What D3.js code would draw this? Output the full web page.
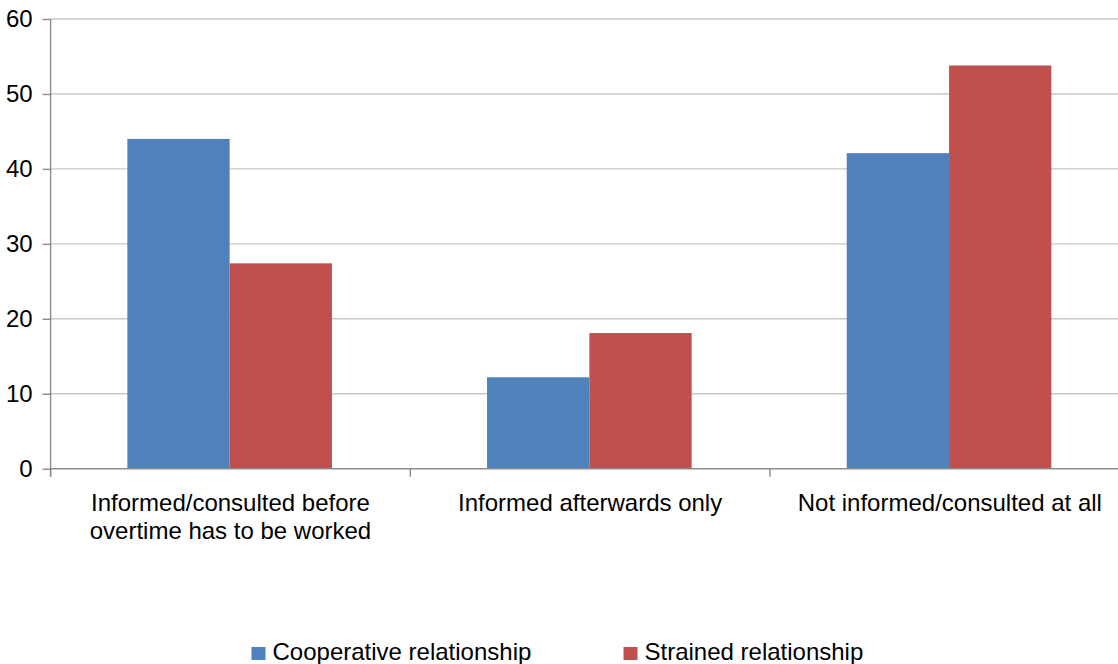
<!DOCTYPE html>
<html>
<head>
<meta charset="utf-8">
<script src="https://cdn.jsdelivr.net/npm/d3@7/dist/d3.min.js"></script>
<style>
  html, body { margin: 0; padding: 0; background: #fff; }
  svg { display: block; font-family: "Liberation Sans", Arial, sans-serif; }
</style>
</head>
<body>
<svg id="chart" width="1118" height="664"></svg>
<script>
// Categories (each label split into its display lines)
const categories = [
  ["Informed/consulted before", "overtime has to be worked"],
  ["Informed afterwards only"],
  ["Not informed/consulted at all"]
];
const seriesNames = ["Cooperative relationship", "Strained relationship"];
const cooperative = [44.0, 12.2, 42.1];
const strained = [27.4, 18.1, 53.8];
const yTicks = [0, 10, 20, 30, 40, 50, 60];
const colors = ["#4F81BD", "#C0504D"];

const FONT = 24;
const svg = d3.select("#chart");
const plotLeft = 50.6, plotTop = 19, plotBottom = 468.7, bandW = 359.7;
const plotRight = 1118;

const x0 = d3.scaleBand()
  .domain(d3.range(categories.length))
  .range([plotLeft, plotLeft + bandW * categories.length])
  .paddingInner(0).paddingOuter(0);

// Two bars per category, Excel-style gap on both sides
const x1 = d3.scaleBand()
  .domain(d3.range(seriesNames.length))
  .range([-0.8, x0.bandwidth() - 0.8])
  .paddingOuter(0.758).paddingInner(0);

const y = d3.scaleLinear().domain([0, 60]).range([plotBottom, plotTop]);

// Horizontal gridlines
svg.append("g")
  .selectAll("line")
  .data(yTicks.filter(d => d > 0))
  .join("line")
  .attr("x1", plotLeft).attr("x2", plotRight)
  .attr("y1", d => y(d))
  .attr("y2", d => y(d))
  .attr("stroke", "#c8c8c8").attr("stroke-width", 1.4);

// Bars
const values = [cooperative, strained];
const groups = svg.append("g")
  .selectAll("g")
  .data(categories.map((c, i) => i))
  .join("g")
  .attr("transform", i => `translate(${x0(i)},0)`);

groups.selectAll("rect")
  .data(i => values.map((s, k) => ({ k, v: s[i] })))
  .join("rect")
  .attr("x", d => x1(d.k))
  .attr("width", x1.bandwidth())
  .attr("y", d => y(d.v))
  .attr("height", d => y(0) - y(d.v))
  .attr("fill", d => colors[d.k]);

// Y axis
const yAxis = svg.append("g")
  .attr("transform", `translate(${plotLeft},0)`)
  .call(d3.axisLeft(y).tickValues(yTicks).tickSize(8).tickPadding(10))
  .call(g => g.select(".domain").attr("d", `M0,${plotTop}V${plotBottom + 8}`));
yAxis.selectAll("line, path").attr("stroke", "#8c8c8c").attr("stroke-width", 1.4);
yAxis.selectAll("text").attr("font-size", FONT).attr("fill", "#000")
  .attr("font-family", "'Liberation Sans', Arial, sans-serif");

// X axis
const xAxis = svg.append("g")
  .attr("transform", `translate(0,${plotBottom})`);
xAxis.append("line")
  .attr("x1", plotLeft).attr("x2", plotRight)
  .attr("stroke", "#8c8c8c").attr("stroke-width", 1.4);
xAxis.selectAll("line.tick")
  .data(d3.range(categories.length))
  .join("line").attr("class", "tick")
  .attr("x1", i => x0(i)).attr("x2", i => x0(i))
  .attr("y1", 0).attr("y2", 8)
  .attr("stroke", "#8c8c8c").attr("stroke-width", 1.4);

const labels = xAxis.selectAll("text")
  .data(categories)
  .join("text")
  .attr("text-anchor", "middle")
  .attr("font-size", FONT)
  .attr("fill", "#000");
labels.each(function(lines, i) {
  const t = d3.select(this);
  lines.forEach((ln, j) => {
    t.append("tspan")
      .attr("x", x0(i) + x0.bandwidth() / 2)
      .attr("y", 42 + j * 28)
      .text(ln);
  });
});

// Legend
const legend = svg.append("g");
const legendX = [251.5, 623.5];
seriesNames.forEach((name, k) => {
  legend.append("rect")
    .attr("x", legendX[k]).attr("y", 647)
    .attr("width", 14).attr("height", 13)
    .attr("fill", colors[k]);
  legend.append("text")
    .attr("x", legendX[k] + 21).attr("y", 659.5)
    .attr("font-size", FONT).attr("fill", "#000")
    .text(name);
});
</script>
</body>
</html>
